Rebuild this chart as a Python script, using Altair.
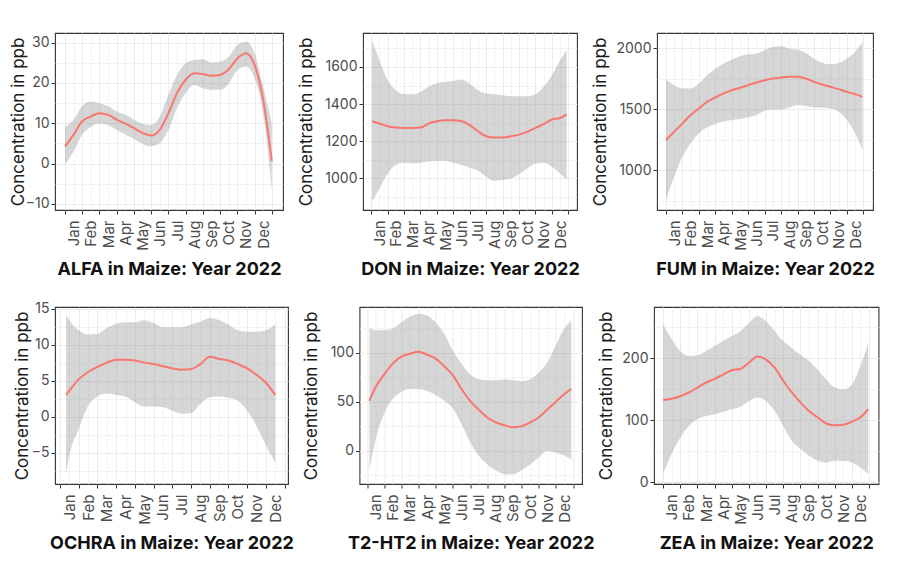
import altair as alt
import pandas as pd
import numpy as np

MONTHS = ["Jan", "Feb", "Mar", "Apr", "May", "Jun", "Jul", "Aug", "Sep", "Oct", "Nov", "Dec"]
YEAR = 2022
MATRIX = "Maize"
Y_TITLE = "Concentration in ppb"

# ---------------- data (x = months since 1 Jan) ----------------
alfa_x = [0, 0.5, 1, 1.5, 2, 2.5, 3, 3.5, 4, 4.5, 5, 5.5, 6, 6.5, 7, 7.5, 8, 8.5, 9, 9.5, 10, 10.5, 11, 11.5, 12]
alfa_fit = [4.3, 7.2, 10.5, 11.7, 12.5, 12.1, 10.9, 9.9, 8.8, 7.6, 7.0, 8.4, 12.5, 17.5, 20.8, 22.4, 22.2, 21.8, 22.0, 23.4, 26.1, 27.4, 24.5, 15.8, 0.6]
alfa_lo = [-0.3, 3.0, 7.2, 9.1, 10.0, 9.6, 8.4, 7.2, 6.1, 4.9, 4.3, 5.1, 8.4, 13.8, 17.5, 19.5, 18.7, 18.3, 18.3, 19.9, 23.2, 24.1, 21.2, 12.5, -6.5]
alfa_hi = [9.1, 10.9, 14.3, 15.4, 15.0, 14.3, 12.9, 12.1, 10.9, 9.9, 9.6, 11.7, 17.1, 22.0, 24.9, 25.7, 25.9, 25.1, 25.3, 26.5, 29.4, 30.2, 27.4, 19.1, 10.0]

don_x = [0.05, 0.5, 1, 1.5, 2, 2.5, 3, 3.5, 4, 4.5, 5, 5.5, 6, 6.5, 7, 7.5, 8, 8.5, 9, 9.5, 10, 10.5, 11, 11.5, 11.9]
don_fit = [1308, 1296, 1281, 1274, 1272, 1272, 1274, 1296, 1308, 1313, 1313, 1308, 1287, 1254, 1227, 1220, 1220, 1227, 1236, 1251, 1272, 1292, 1317, 1325, 1345]
don_lo = [875, 946, 1027, 1072, 1084, 1081, 1084, 1091, 1095, 1095, 1084, 1072, 1059, 1041, 1009, 987, 991, 1000, 1023, 1054, 1081, 1084, 1063, 1027, 995]
don_hi = [1743, 1636, 1528, 1475, 1453, 1453, 1466, 1493, 1514, 1519, 1525, 1532, 1510, 1475, 1457, 1453, 1448, 1442, 1442, 1442, 1453, 1493, 1555, 1636, 1690]

fum_x = [0, 0.5, 1, 1.5, 2, 2.5, 3, 3.5, 4, 4.5, 5, 5.5, 6, 6.5, 7, 7.5, 8, 8.5, 9, 9.5, 10, 10.5, 11, 11.5, 11.95]
fum_fit = [1247, 1315, 1383, 1451, 1505, 1560, 1595, 1628, 1655, 1674, 1696, 1717, 1736, 1750, 1758, 1764, 1764, 1750, 1723, 1701, 1682, 1663, 1641, 1622, 1600]
fum_lo = [758, 948, 1111, 1220, 1302, 1351, 1378, 1397, 1410, 1418, 1432, 1451, 1486, 1497, 1497, 1514, 1533, 1524, 1514, 1511, 1505, 1478, 1410, 1302, 1166]
fum_hi = [1742, 1696, 1668, 1668, 1709, 1777, 1832, 1872, 1905, 1932, 1948, 1954, 1981, 2008, 2014, 1995, 1986, 1959, 1913, 1880, 1867, 1878, 1913, 1967, 2049]

ochra_x = [0.32, 0.5, 1, 1.5, 2, 2.5, 3, 3.5, 4, 4.5, 5, 5.5, 6, 6.5, 7, 7.5, 8, 8.5, 9, 9.5, 10, 10.5, 11, 11.5]
ochra_fit = [3.0, 3.6, 5.2, 6.2, 6.9, 7.5, 7.9, 7.9, 7.8, 7.5, 7.3, 7.0, 6.7, 6.5, 6.6, 7.3, 8.3, 8.0, 7.8, 7.3, 6.7, 5.8, 4.7, 3.0]
ochra_lo = [-8.0, -5.4, -1.7, 1.5, 2.8, 3.2, 3.0, 2.8, 2.0, 1.4, 1.4, 1.3, 0.8, 0.4, 0.5, 1.8, 2.7, 2.8, 2.6, 2.2, 0.8, -1.3, -4.0, -6.4]
ochra_hi = [14.2, 13.4, 12.0, 11.4, 11.5, 12.3, 12.9, 13.1, 13.1, 13.4, 13.0, 12.4, 12.4, 12.4, 12.8, 13.2, 13.7, 13.4, 12.8, 12.0, 11.8, 11.8, 12.0, 12.8]

t2_x = [0.14, 0.5, 1, 1.5, 2, 2.5, 3, 3.5, 4, 4.5, 5, 5.5, 6, 6.5, 7, 7.5, 8, 8.5, 9, 9.5, 10, 10.5, 11, 11.5, 11.9]
t2_fit = [51, 65, 78, 89, 96, 99, 101, 98, 94, 86, 77, 63, 51, 42, 34, 29, 26, 24, 25, 29, 34, 42, 50, 58, 63]
t2_lo = [-20, 12, 38, 53, 60, 63, 63, 61, 57, 51, 43, 27, 9, -5, -14, -20, -24, -24, -20, -14, -7, 0, -2, -5, -9]
t2_hi = [125, 123, 123, 125, 131, 137, 140, 138, 131, 119, 102, 89, 78, 73, 72, 72, 73, 72, 71, 73, 80, 90, 108, 125, 133]

zea_x = [0, 0.5, 1, 1.5, 2, 2.5, 3, 3.5, 4, 4.5, 5, 5.5, 6, 6.5, 7, 7.5, 8, 8.5, 9, 9.5, 10, 10.5, 11, 11.5, 11.95]
zea_fit = [133, 135, 139, 145, 153, 161, 167, 174, 181, 183, 193, 203, 198, 185, 164, 145, 129, 115, 105, 95, 92, 93, 98, 105, 118]
zea_lo = [13, 46, 72, 91, 102, 107, 110, 114, 118, 122, 131, 137, 131, 115, 91, 67, 54, 43, 35, 32, 35, 35, 32, 24, 13]
zea_hi = [255, 231, 212, 204, 205, 212, 220, 228, 236, 244, 257, 268, 260, 244, 228, 217, 206, 196, 182, 166, 153, 150, 158, 188, 225]

# ---------------- panel layout ----------------
PANELS = [
    dict(name="ALFA", x=alfa_x, fit=alfa_fit, lo=alfa_lo, hi=alfa_hi,
         ydom=[-11.5, 32.4], xdom=[-0.58, 12.65], step=10, w=228, ext=28),
    dict(name="DON", x=don_x, fit=don_fit, lo=don_lo, hi=don_hi,
         ydom=[830, 1783], xdom=[-0.5, 12.53], step=200, w=214, ext=48),
    dict(name="FUM", x=fum_x, fit=fum_fit, lo=fum_lo, hi=fum_hi,
         ydom=[673, 2123], xdom=[-0.55, 12.59], step=500, w=216, ext=48),
    dict(name="OCHRA", x=ochra_x, fit=ochra_fit, lo=ochra_lo, hi=ochra_hi,
         ydom=[-9.37, 15.23], xdom=[-0.27, 12.18], step=5, w=233, ext=24),
    dict(name="T2-HT2", x=t2_x, fit=t2_fit, lo=t2_lo, hi=t2_hi,
         ydom=[-34, 146.8], xdom=[-0.44, 12.52], step=50, w=222.5, ext=39),
    dict(name="ZEA", x=zea_x, fit=zea_fit, lo=zea_lo, hi=zea_hi,
         ydom=[-2.7, 283], xdom=[-0.53, 12.55], step=100, w=224.5, ext=39),
]
H = 177
FONT = "Inter"
month_arr = "[" + ",".join("'%s'" % m for m in MONTHS) + "]"


def panel(p):
    df = pd.DataFrame({"x": p["x"], "fit": p["fit"], "lo": p["lo"], "hi": p["hi"]})
    step = p["step"]
    half = step / 2
    lo_t = np.ceil(p["ydom"][0] / half) * half
    yvals = [float(v) for v in np.arange(lo_t, p["ydom"][1] + 1e-9, half)]
    yaxis = alt.Axis(
        values=yvals,
        format="d",
        labelExpr=f"datum.value % {step} == 0 ? datum.label : ''",
        tickOpacity={"condition": {"test": f"datum.value % {step} != 0", "value": 0}, "value": 1},
        gridWidth={"condition": {"test": f"datum.value % {step} != 0", "value": 0.6}, "value": 1},
        title=Y_TITLE,
        minExtent=p["ext"], maxExtent=p["ext"], titlePadding=0,
        labelOverlap=False,
    )
    xvals = [i / 2 for i in range(0, 25)]
    xaxis = alt.Axis(
        values=xvals,
        labelExpr=f"datum.value % 1 == 0.5 ? {month_arr}[floor(datum.value)] : ''",
        tickOpacity={"condition": {"test": "datum.value % 1 != 0", "value": 0}, "value": 1},
        gridWidth={"condition": {"test": "datum.value % 1 != 0", "value": 0.6}, "value": 1},
        labelAngle=270, labelAlign="right", labelBaseline="middle",
        labelOverlap=False, labelFlush=False, labelPadding=6, labelFontSize=15,
        title=f"{p['name']} in {MATRIX}: Year {YEAR}",
        titleFontWeight="bold", titleFontSize=18, titleColor="#111111",
        minExtent=42, maxExtent=42, titlePadding=8,
    )
    xenc = alt.X("x:Q", scale=alt.Scale(domain=p["xdom"], nice=False, zero=False), axis=xaxis)
    yscale = alt.Scale(domain=p["ydom"], nice=False, zero=False)
    band = alt.Chart(df).mark_area(color="#999999", opacity=0.4, interpolate="monotone").encode(
        x=xenc,
        y=alt.Y("lo:Q", scale=yscale, axis=yaxis),
        y2="hi:Q",
    )
    line = alt.Chart(df).mark_line(color="#F8766D", strokeWidth=2, interpolate="monotone").encode(
        x=xenc,
        y=alt.Y("fit:Q", scale=yscale, axis=yaxis),
    )
    return alt.layer(band, line).properties(width=p["w"], height=H)


charts = [panel(p) for p in PANELS]
# within a row, bounds="flush": spacing is the gap between the plot areas themselves
row1 = alt.hconcat(charts[0], charts[1], charts[2], spacing=80, bounds="flush")
row2 = alt.hconcat(charts[3], charts[4], charts[5], spacing=71.5, bounds="flush")

chart = alt.vconcat(row1, row2, spacing=22).properties(
    padding={"left": 0, "top": 24, "right": 5, "bottom": 5}
).configure(font=FONT).configure_view(
    stroke="#333333", strokeWidth=1.1
).configure_axis(
    domain=False,
    gridColor="#EBEBEB",
    tickColor="#333333",
    tickSize=4,
    tickWidth=1,
    labelColor="#4D4D4D",
    labelFont=FONT,
    labelFontSize=14,
    titleFont=FONT,
    titleFontSize=17,
    titleFontWeight="normal",
    titleColor="#1A1A1A",
)

chart.save("out.html", embed_options={"renderer": "svg", "actions": False})
